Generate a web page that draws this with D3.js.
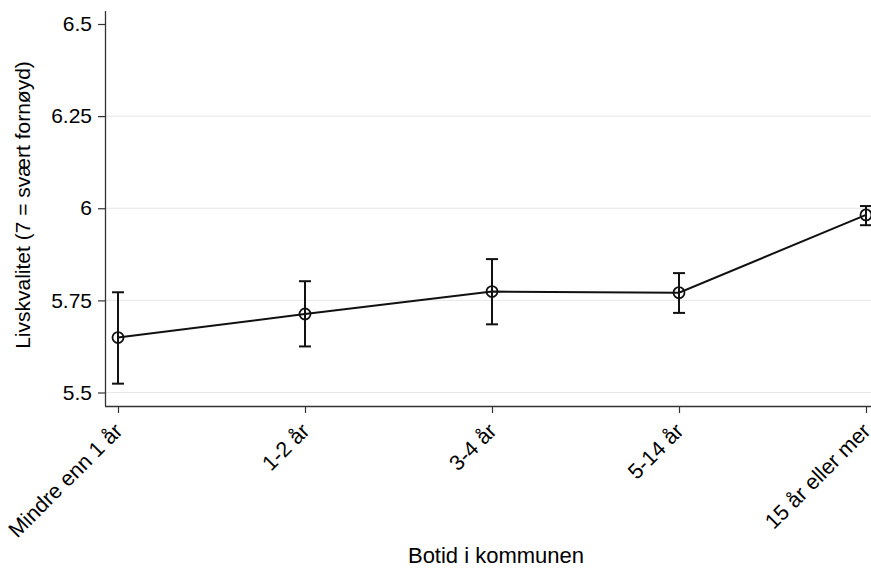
<!DOCTYPE html>
<html>
<head>
<meta charset="utf-8">
<script src="https://cdn.jsdelivr.net/npm/d3@7"></script>
<style>
  body { margin: 0; background: #fff; }
  text { font-family: "Liberation Sans", Arial, sans-serif; fill: #000; }
</style>
</head>
<body>
<script>
// categories and estimates with 95% CI
var categories = ["Mindre enn 1 år", "1-2 år", "3-4 år", "5-14 år", "15 år eller mer"];
var means = [5.649, 5.713, 5.774, 5.771, 5.982];
var lower = [5.524, 5.625, 5.685, 5.716, 5.954];
var upper = [5.772, 5.802, 5.862, 5.824, 6.006];
var yTicks = [5.5, 5.75, 6, 6.25, 6.5];
var yTickLabels = ["5.5", "5.75", "6", "6.25", "6.5"];

var W = 871, H = 569;
var axisX = 105, axisY = 406;

var svg = d3.select("body").append("svg")
    .attr("width", W)
    .attr("height", H);

var x = d3.scalePoint().domain(categories).range([118, 866]);
var y = d3.scaleLinear().domain([5.5, 6.5]).range([392.5, 24]);

var data = categories.map(function(c, i) {
    return {cat: c, m: means[i], lo: lower[i], hi: upper[i]};
});

// gridlines
svg.append("g").selectAll("line")
    .data(yTicks.filter(function(t) { return t < 6.5; }))
    .enter().append("line")
    .attr("x1", axisX).attr("x2", W)
    .attr("y1", function(d) { return y(d); })
    .attr("y2", function(d) { return y(d); })
    .attr("stroke", "#e6e6e6")
    .attr("stroke-width", 1);

// y axis
var yAxis = svg.append("g")
    .attr("transform", "translate(" + axisX + ",0)")
    .call(d3.axisLeft(y).tickValues(yTicks)
        .tickFormat(function(d, i) { return yTickLabels[i]; })
        .tickSize(7).tickPadding(6).tickSizeOuter(0));
yAxis.select(".domain").attr("d", "M0.5,11V" + axisY).attr("stroke", "#333").attr("stroke-width", 1.3);
yAxis.selectAll(".tick line").attr("stroke", "#333").attr("stroke-width", 1.2);
yAxis.selectAll("text").style("font-size", "21px").attr("fill", "#000");

// x axis
var xAxis = svg.append("g")
    .attr("transform", "translate(0," + axisY + ")")
    .call(d3.axisBottom(x).tickSize(7).tickSizeOuter(0));
xAxis.select(".domain").attr("d", "M" + axisX + ",0.5H" + W).attr("stroke", "#333").attr("stroke-width", 1.3);
xAxis.selectAll(".tick line").attr("stroke", "#333").attr("stroke-width", 1.2);
xAxis.selectAll("text")
    .style("font-size", "21.5px")
    .attr("fill", "#000")
    .attr("text-anchor", "end")
    .attr("dy", "0.35em")
    .attr("transform", "translate(0,21) rotate(-45)")
    .attr("y", 0).attr("x", 0);

// axis titles
svg.append("text")
    .attr("transform", "translate(30,205) rotate(-90)")
    .attr("text-anchor", "middle")
    .style("font-size", "21px")
    .text("Livskvalitet (7 = svært fornøyd)");

svg.append("text")
    .attr("x", 496).attr("y", 563)
    .attr("text-anchor", "middle")
    .style("font-size", "22px")
    .text("Botid i kommunen");

// error bars
var eb = svg.append("g").selectAll("g")
    .data(data).enter().append("g")
    .attr("stroke", "#111").attr("stroke-width", 2);
eb.append("line")
    .attr("x1", function(d) { return x(d.cat); })
    .attr("x2", function(d) { return x(d.cat); })
    .attr("y1", function(d) { return y(d.lo); })
    .attr("y2", function(d) { return y(d.hi); });
eb.append("line")
    .attr("x1", function(d) { return x(d.cat) - 6; })
    .attr("x2", function(d) { return x(d.cat) + 6; })
    .attr("y1", function(d) { return y(d.hi); })
    .attr("y2", function(d) { return y(d.hi); });
eb.append("line")
    .attr("x1", function(d) { return x(d.cat) - 6; })
    .attr("x2", function(d) { return x(d.cat) + 6; })
    .attr("y1", function(d) { return y(d.lo); })
    .attr("y2", function(d) { return y(d.lo); });

// connecting line
var line = d3.line()
    .x(function(d) { return x(d.cat); })
    .y(function(d) { return y(d.m); });
svg.append("path")
    .datum(data)
    .attr("d", line)
    .attr("fill", "none")
    .attr("stroke", "#111")
    .attr("stroke-width", 2);

// markers
svg.append("g").selectAll("circle")
    .data(data).enter().append("circle")
    .attr("cx", function(d) { return x(d.cat); })
    .attr("cy", function(d) { return y(d.m); })
    .attr("r", 5.5)
    .attr("fill", "none")
    .attr("stroke", "#111")
    .attr("stroke-width", 1.8);
</script>
</body>
</html>
